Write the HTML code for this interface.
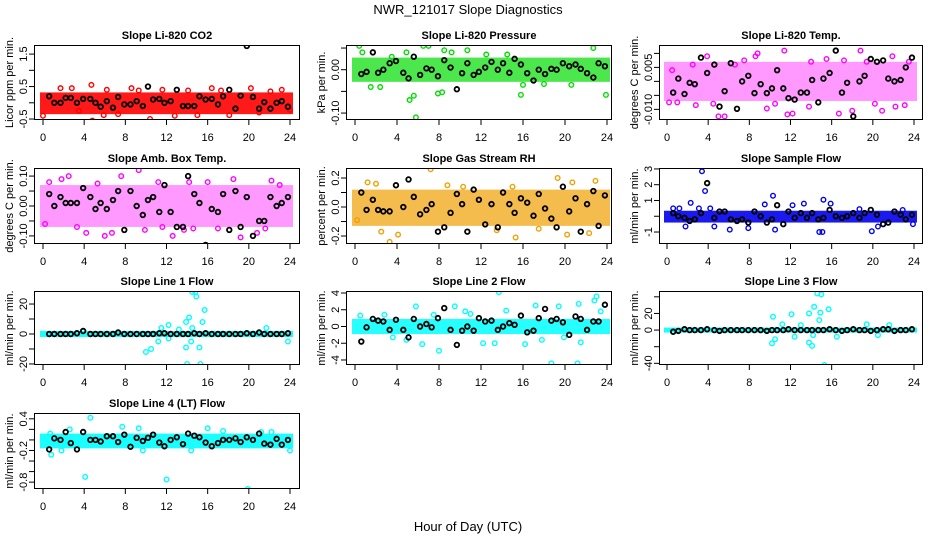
<!DOCTYPE html>
<html><head><meta charset="utf-8"><style>
html,body{margin:0;padding:0;background:#fff;}
svg{display:block;font-family:"Liberation Sans",Arial,sans-serif;}
</style></head><body>
<svg id="chart" width="936" height="540" viewBox="0 0 936 540">
<rect width="936" height="540" fill="#fff"/>
<text x="468" y="14" text-anchor="middle" font-size="13">NWR_121017  Slope Diagnostics</text>
<text x="468" y="531" text-anchor="middle" font-size="13">Hour of Day (UTC)</text>
</svg>
<script>
// shared sample hours for black (reference) points
const blackHours = [0.6,1.1,1.7,2.2,2.7,3.3,3.9,4.6,5.1,5.6,6.2,6.8,7.3,7.9,8.5,9.1,9.7,10.2,10.7,11.3,11.8,12.4,13.0,13.6,14.1,14.7,15.2,15.8,16.4,17.0,17.5,18.1,18.7,19.2,19.8,20.4,21.0,21.5,22.1,22.7,23.2,23.8];
const xTicks = [0,4,8,12,16,20,24];

const titles = ["Slope Li-820 CO2","Slope Li-820 Pressure","Slope Li-820 Temp.","Slope Amb. Box Temp.","Slope Gas Stream RH","Slope Sample Flow","Slope Line 1 Flow","Slope Line 2 Flow","Slope Line 3 Flow","Slope Line 4 (LT) Flow"];
const yTitles = ["Licor ppm per min.","kPa per min.","degrees C per min.","degrees C per min.","percent per min.","ml/min per min.","ml/min per min.","ml/min per min.","ml/min per min.","ml/min per min."];
const colors = ["#ff0000","#00dd00","#ff00ff","#ff00ff","#f0a000","#0000ee","#00ffff","#00ffff","#00ffff","#00ffff"];
const yDomains = [[-0.53,1.78],[-0.116,0.057],[-0.0138,0.013],[-0.127,0.127],[-0.255,0.269],[-1.76,3.06],[-20.7,28.7],[-4.6,4.24],[-42,47],[-0.93,0.51]];
const yTickVals = [[-0.5,0,0.5,1,1.5],[-0.1,-0.05,0,0.05],[-0.01,-0.005,0,0.005,0.01],[-0.1,-0.05,0,0.05,0.1],[-0.2,-0.1,0,0.1,0.2],[-1,0,1,2,3],[-20,-10,0,10,20],[-4,-2,0,2,4],[-40,-20,0,20,40],[-0.8,-0.6,-0.4,-0.2,0,0.2,0.4]];
const yTickLabels = [["-0.5","","0.5","","1.5"],["-0.10","","0.00",""],["-0.010","","","0.005",""],["-0.10","","0.00","","0.10"],["-0.2","","0.0","","0.2"],["-1","","1","2","3"],["-20","","0","","20"],["-4","-2","0","2","4"],["-40","","0","20",""],["-0.8","","","-0.2","","","0.4"]];
const bands = [[-0.35,0.32],[-0.028,0.028],[-0.007,0.007],[-0.07,0.07],[-0.13,0.12],[-0.4,0.35],[-2,2],[-0.9,0.9],[-3,3],[-0.16,0.12]];
const bandOpacity = [0.9,0.7,0.4,0.4,0.7,0.9,0.9,0.85,0.9,0.9];

const blackCO2 = [0.2,0.0,0.0,0.15,0.15,0.0,0.12,0.12,0.0,-0.12,0.05,-0.15,0.18,-0.05,-0.05,0.05,-0.1,0.5,0.1,0.12,0.0,0.05,0.4,-0.1,-0.1,-0.1,0.2,0.1,0.12,-0.05,0.2,0.4,-0.18,0.22,1.75,0.18,-0.18,0.02,-0.18,0.0,0.05,-0.12];
const blackPress = [-0.01,-0.005,0.04,-0.007,0.0,0.015,0.02,-0.007,-0.02,0.03,-0.012,0.003,0.0,-0.015,0.022,0.005,-0.045,-0.008,0.015,-0.012,-0.005,0.005,0.018,0.0,0.015,-0.007,0.025,0.012,-0.008,-0.025,0.0,-0.01,0.002,0.0,0.015,0.008,0.012,0.002,-0.008,-0.018,0.015,0.008];
const blackTemp = [-0.004,0.001,-0.0045,-0.0005,-0.001,0.0085,0.003,0.006,-0.009,-0.0035,0.0065,-0.0098,0.0,0.002,-0.0042,-0.001,-0.0042,-0.0025,0.004,-0.0025,-0.006,-0.0065,-0.004,-0.004,0.0005,-0.0075,0.001,0.003,0.011,-0.004,-0.0005,-0.0125,0.0,0.002,0.008,0.007,0.0075,0.001,0.0,0.0005,0.005,0.0085];
const blackAmb = [0.04,0.0,0.03,0.01,0.01,0.01,0.06,0.03,-0.01,0.01,-0.01,0.02,0.05,-0.08,0.05,0.0,-0.03,0.02,0.03,-0.02,0.07,-0.02,-0.07,-0.07,0.1,0.04,0.01,-0.13,-0.01,-0.02,0.04,-0.08,0.05,-0.07,0.03,-0.1,-0.05,-0.05,0.03,0.0,0.01,0.03];
const blackRH = [0.1,-0.02,0.05,-0.02,-0.03,-0.03,0.15,0.0,0.19,0.07,-0.05,-0.02,0.02,-0.17,-0.14,-0.04,0.09,0.02,-0.17,0.12,0.05,-0.12,0.02,-0.14,0.1,0.02,-0.04,0.06,0.03,-0.06,0.09,-0.01,-0.08,-0.14,0.14,-0.03,0.06,-0.17,0.02,0.11,-0.13,0.08];
const blackSample = [0.2,0.0,-0.1,-0.3,-0.2,0.2,2.1,-0.1,0.3,0.3,-0.2,-0.3,-0.2,-0.4,0.3,0.0,-0.4,-0.2,0.7,-0.5,0.3,-0.1,0.2,-0.1,0.2,-0.2,-0.1,0.4,0.0,-0.1,0.0,0.2,-0.1,0.2,0.4,0.1,-0.5,-0.4,0.3,0.1,-0.2,0.1];
const blackL1 = [0,0,0,0,0,0.5,2,0,0,0,0,0,1,0,0,0,0,0,0,0.5,0.5,0,0,0,0,0.5,0,0.5,0,0,0,0,0,0,0.5,0,1,0,0,0,0,0.5];
const blackL2 = [-1.8,-0.1,0.9,0.7,0.6,-0.4,0.8,-0.4,-1.3,0.9,0.0,0.3,-0.1,1.0,2.2,-0.4,-2.2,-0.5,0.0,-0.5,1.0,0.6,0.7,-0.4,0.0,0.4,0.2,1.3,-0.7,-0.5,1.0,2.1,0.7,0.9,0.5,-1.0,1.2,0.9,-0.4,0.6,0.6,2.6];
const blackL3 = [-2,-1,1,0,0,0,1,0,-1,0,0,0,0,0,0,0,-1,0,0,0,1,0,0,0,0,0,0,1,0,-1,0,1,0,0,-1,0,1,1,-1,0,0,1];
const blackL4 = [-0.18,0.03,0.0,0.15,-0.06,-0.18,0.15,0.0,0.0,-0.03,0.07,0.07,-0.04,0.1,-0.13,0.04,-0.02,0.04,0.1,-0.05,-0.12,0.0,0.05,-0.08,0.12,0.08,0.05,-0.05,-0.12,-0.06,0.0,0.0,0.03,-0.04,0.05,0.0,0.12,-0.07,-0.09,0.02,-0.09,0.0];
const blackVals = [blackCO2,blackPress,blackTemp,blackAmb,blackRH,blackSample,blackL1,blackL2,blackL3,blackL4];

const colCO2 = [[0.0,-0.4],[4.8,-0.55],[10.4,-0.5],[1.7,0.45],[2.8,0.45],[4.7,0.55],[8.6,0.45],[11.6,0.4],[16.4,0.45],[20.2,0.45],[23.2,0.4],[5.9,-0.38],[7.3,-0.35],[12.8,-0.4],[15.0,-0.38],[18.1,-0.38],[21.0,-0.3],[24,-0.22],[3.5,-0.25],[9.3,0.38],[14.1,0.38],[17.3,0.38],[22.1,0.35],[6.2,0.4]];
const colPress = [[0.4,0.055],[0.7,0.04],[2.4,-0.04],[5.2,-0.07],[5.6,-0.06],[5.8,-0.11],[6.5,0.055],[7.0,0.055],[7.9,-0.055],[8.3,-0.052],[8.5,0.045],[10.7,0.045],[15.8,-0.058],[16.0,-0.035],[20.6,-0.035],[22.7,0.05],[23.9,-0.058],[4.9,0.04],[3.5,0.03],[12.5,0.035],[14.5,0.035],[18.0,-0.033],[1.5,-0.04],[9.2,0.04]];
const colTemp = [[3.9,0.009],[8.6,0.009],[8.8,0.010],[11.4,0.011],[18.8,0.011],[21.9,0.009],[5.0,-0.0125],[5.6,-0.0125],[11.7,-0.0118],[12.2,-0.0115],[16.7,-0.0115],[18.0,-0.0105],[20.9,-0.0105],[0.2,-0.0075],[1.0,-0.0075],[2.8,-0.0085],[9.7,-0.0097],[13.8,-0.009],[22.2,-0.009],[23.1,-0.0085],[15.5,0.008],[0.5,0.004],[6.6,0.006],[14.0,0.007],[19.4,0.007],[23.5,0.007],[2.5,0.006],[4.5,-0.008],[7.5,0.0075],[10.5,-0.008],[17.2,0.0075],[20.2,-0.008]];
const colAmb = [[9.3,0.12],[7.6,0.10],[2.5,0.10],[4.2,-0.09],[6.0,-0.1],[6.7,-0.09],[12.6,-0.1],[13.7,-0.08],[14.6,-0.075],[19.2,-0.105],[20.8,-0.09],[0.6,0.08],[1.8,0.09],[11.2,0.08],[16.0,0.08],[18.5,0.09],[22.2,0.085],[23.0,0.07],[0.2,-0.06],[3.3,-0.07],[11.6,-0.07],[21.6,-0.075],[17.0,-0.075],[5.3,0.075],[9.9,-0.08],[14.2,0.08]];
const colRH = [[7.2,0.26],[3.3,-0.24],[4.1,-0.19],[15.3,-0.21],[20.2,-0.19],[22.3,-0.18],[19.3,0.2],[22.9,0.18],[1.2,0.17],[2.5,-0.17],[8.8,0.15],[13.5,-0.16],[17.5,-0.15],[10.3,0.14],[20.7,0.17],[0.2,-0.09],[2.0,0.16],[15.0,0.14]];
const colSample = [[3.4,2.85],[3.7,1.6],[2.3,0.85],[10.3,1.3],[15.2,1.05],[15.9,0.8],[10.5,-0.85],[14.8,-1.0],[15.1,-1.0],[19.9,-0.95],[0.6,0.5],[1.2,0.5],[3.1,0.5],[4.2,0.5],[9.5,0.75],[12.2,0.7],[13.3,0.8],[1.8,-0.65],[6.1,-0.85],[7.9,-0.75],[4.6,-0.65],[20.5,-0.65],[23.9,-0.5],[18.7,0.45],[22.9,0.4]];
const colL1 = [[14.5,28],[14.8,28],[14.9,25],[15.7,16],[14.2,11],[13.9,8],[15.5,8],[12.2,6],[14.5,4],[13.9,-9],[14.4,-5],[15.2,-9],[10.0,-12],[10.5,-10],[14.0,-20],[15.3,-20],[11.2,-5],[12.2,-3],[21.7,4],[23.8,-5],[11.5,4],[13.2,3]];
const colL2 = [[13.7,4.1],[23.0,3.6],[22.8,3.1],[18.7,-4.4],[21.2,-4.4],[8.0,-2.9],[5.8,2.4],[9.5,2.4],[17.2,2.5],[19.4,2.4],[21.3,2.7],[12.2,-2.0],[13.3,-2.0],[6.4,-2.1],[16.2,-2.1],[21.5,-1.9],[0.5,1.3],[2.8,1.4],[10.5,1.8],[14.4,1.9],[23.4,1.8],[4.9,-1.6],[11.0,1.5],[17.8,-1.6],[3.6,-1.3],[7.5,1.4],[19.9,-1.3]];
const colL3 = [[14.6,44],[15.0,43],[14.3,28],[15.7,25],[14.9,21],[13.8,20],[12.1,19],[10.3,16],[14.8,12],[11.2,7],[13.0,6],[10.2,-16],[10.5,-11],[13.8,-15],[14.1,-19],[15.3,-42],[12.4,-8],[14.2,-6],[16.5,-8],[19.4,7],[21.6,6],[20.5,-6]];
const colL4 = [[4.6,0.42],[4.1,-0.7],[12.0,-0.75],[19.9,-0.93],[0.8,-0.28],[7.7,0.25],[9.3,0.22],[2.6,0.2],[16.0,0.22],[17.5,0.17],[0.7,0.12],[9.7,-0.2],[14.4,-0.2],[21.2,0.15],[22.2,0.15],[24,-0.2],[1.8,-0.2]];
const colorPts = [colCO2,colPress,colTemp,colAmb,colRH,colSample,colL1,colL2,colL3,colL4];

const NS = "http://www.w3.org/2000/svg";
const svg = document.getElementById("chart");
const colsGeo = [{b0:34,b1:300,x0:43,x24:290},{b0:346,b1:612,x0:355,x24:607},{b0:659,b1:923,x0:667,x24:914}];
const rowsGeo = [[45,120],[168,244],[291,365],[413,489]];
function mk(tag, attrs, parent){const e=document.createElementNS(NS,tag);for(const k in attrs)e.setAttribute(k,attrs[k]);parent.appendChild(e);return e;}
function slug(s){return s.toLowerCase().replace(/[^a-z0-9]+/g,'-').replace(/^-|-$/g,'');}

titles.forEach((title,i)=>{
  const c=colsGeo[i%3], r=rowsGeo[Math.floor(i/3)];
  const [ymin,ymax]=yDomains[i];
  const X=h=>c.x0+(h/24)*(c.x24-c.x0);
  const Y=v=>r[1]-(v-ymin)/(ymax-ymin)*(r[1]-r[0]);
  const g=mk("g",{},svg);
  
  
  const clip=mk("clipPath",{id:"clip"+i},g);
  mk("rect",{x:c.b0,y:r[0],width:c.b1-c.b0,height:r[1]-r[0]},clip);
  const pg=mk("g",{"clip-path":"url(#clip"+i+")"},g);
  const b=bands[i];
  const band=mk("rect",{x:X(0)-3,y:Y(b[1]),width:X(24)-X(0)+6,height:Y(b[0])-Y(b[1]),fill:colors[i],"fill-opacity":bandOpacity[i]},pg);
  
  
  colorPts[i].forEach(p=>{
    const cc=mk("circle",{cx:X(p[0]),cy:Y(p[1]),r:2.3,fill:"none",stroke:colors[i],"stroke-width":1.4},pg);
    
    
  });
  blackVals[i].forEach((v,k)=>{
    const cc=mk("circle",{cx:X(blackHours[k]),cy:Y(v),r:2.3,fill:"none",stroke:"#000","stroke-width":1.8},pg);
    
    
  });
  const box=mk("rect",{x:c.b0+0.5,y:r[0]+0.5,width:c.b1-c.b0-1,height:r[1]-r[0]-1,fill:"none",stroke:"#000","stroke-width":1},g);
  
  
  const t=mk("text",{x:(c.b0+c.b1)/2,y:r[0]-6,"text-anchor":"middle","font-size":11,"font-weight":"bold"},g);
  t.textContent=title;
  
  
  xTicks.forEach(h=>{
    mk("line",{x1:X(h),x2:X(h),y1:r[1],y2:r[1]+5,stroke:"#000"},g);
    const tl=mk("text",{x:X(h),y:r[1]+21,"text-anchor":"middle","font-size":11},g);
    tl.textContent=h;
    
    
  });
  yTickVals[i].forEach((v,k)=>{
    mk("line",{x1:c.b0-5,x2:c.b0,y1:Y(v),y2:Y(v),stroke:"#000"},g);
    const lab=yTickLabels[i][k];
    if(lab){
      const tl=mk("text",{x:0,y:0,"text-anchor":"middle","font-size":11,transform:`translate(${c.b0-7},${Y(v)}) rotate(-90)`},g);
      tl.textContent=lab;
      
      
    }
  });
  const yt=mk("text",{x:0,y:0,"text-anchor":"middle","font-size":11,transform:`translate(${c.b0-21},${(r[0]+r[1])/2}) rotate(-90)`},g);
  yt.textContent=yTitles[i];
  
  
});
</script>
</body></html>
